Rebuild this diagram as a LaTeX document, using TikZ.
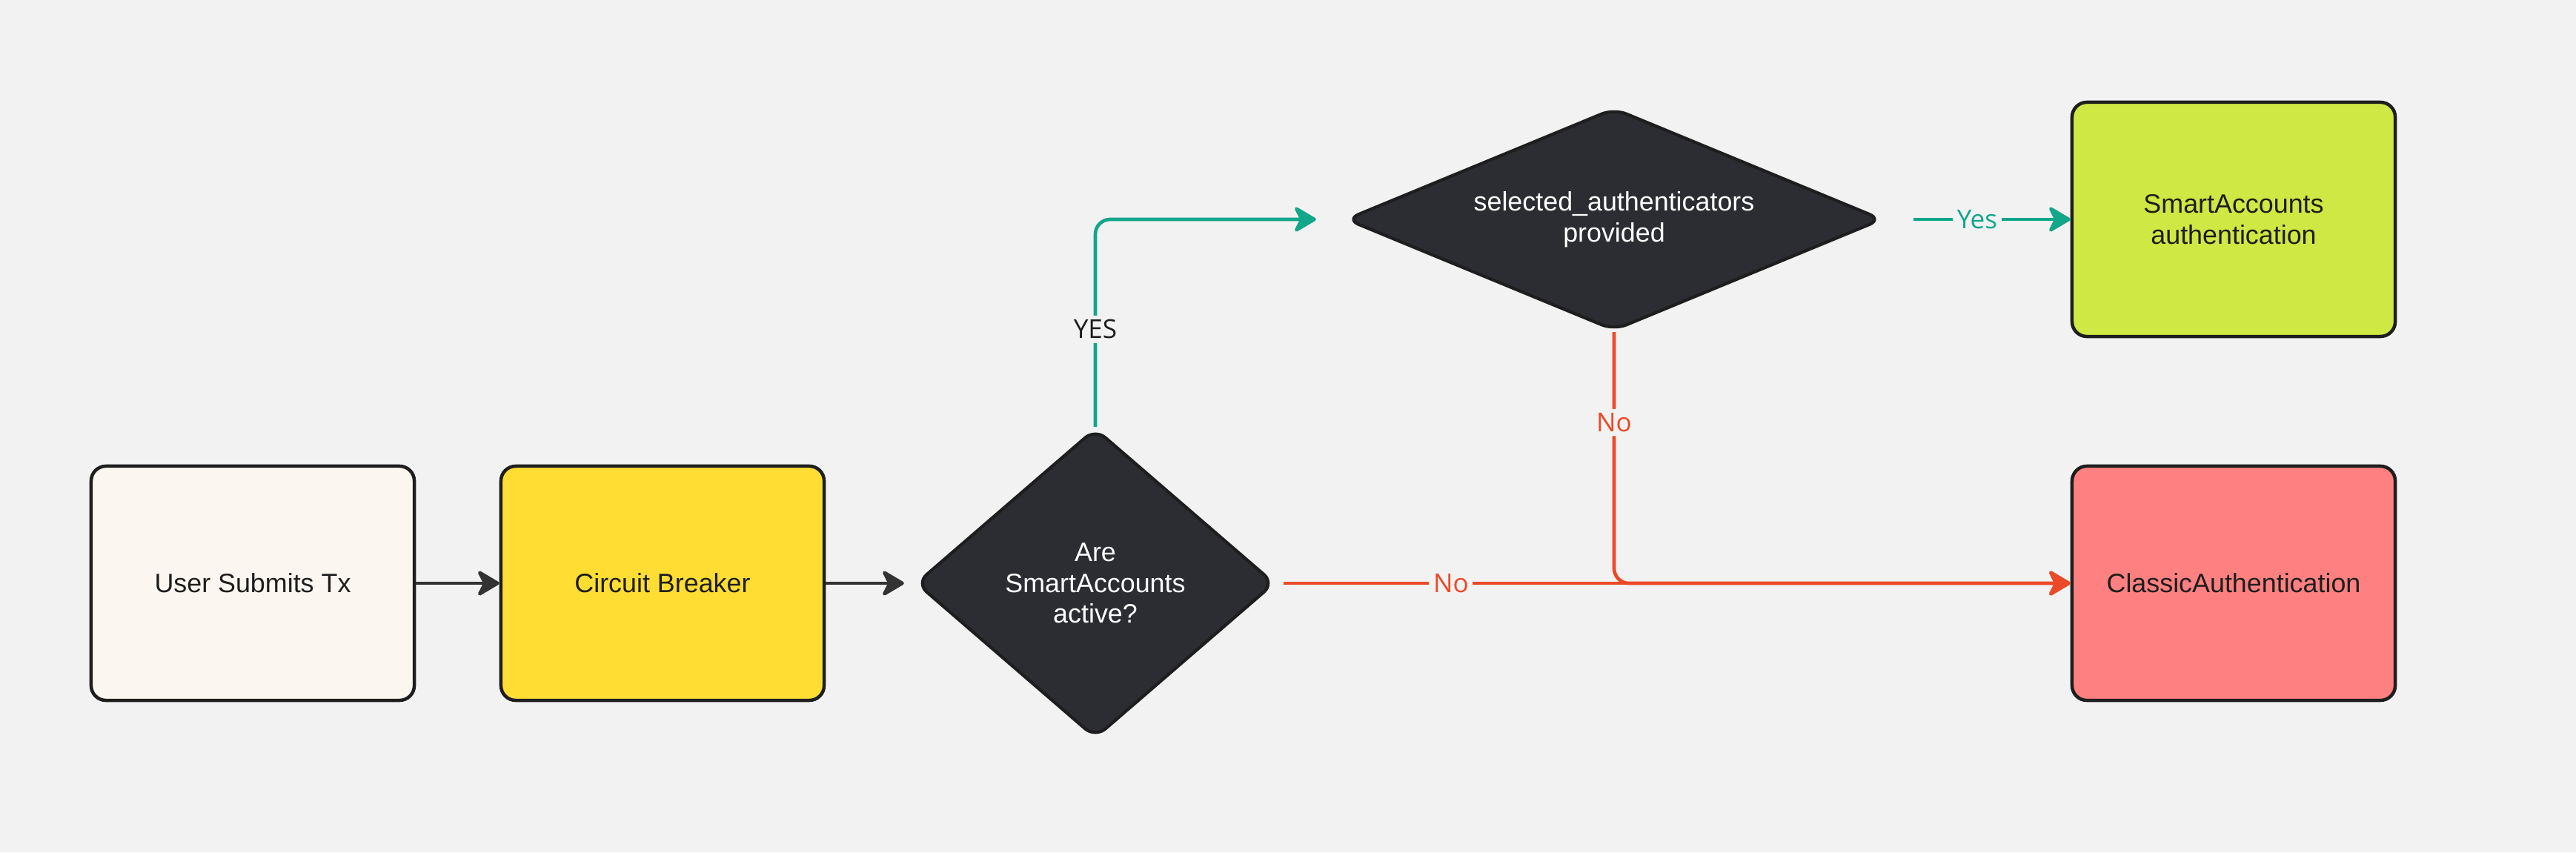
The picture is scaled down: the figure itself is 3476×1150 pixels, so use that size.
\documentclass[tikz,border=0pt]{standalone}
\usepackage{fontspec}
\setmainfont{Liberation Sans}
\newfontfamily\lblfont{Open Sans}
\usetikzlibrary{shapes.geometric,arrows.meta}
\definecolor{bg}{HTML}{F2F2F2}
\definecolor{edge}{HTML}{1E1E1E}
\definecolor{txt}{HTML}{1E1E1E}
\definecolor{cream}{HTML}{FBF7F0}
\definecolor{yell}{HTML}{FFDD33}
\definecolor{lime}{HTML}{CFE843}
\definecolor{pink}{HTML}{FF8080}
\definecolor{dk}{HTML}{2C2D32}
\definecolor{arrdark}{HTML}{333333}
\definecolor{tealc}{HTML}{12A68A}
\definecolor{redc}{HTML}{EA4A27}
\begin{document}
\begin{tikzpicture}[x=0.025cm,y=-0.025cm,
  box/.style={draw=edge, line width=3.2pt, rounded corners=0.5cm,
    minimum width=10.9cm, minimum height=7.9cm, align=center, text=txt,
    font=\fontsize{25.5}{29.5}\selectfont},
  dec/.style={diamond, draw=edge, fill=dk, line width=3pt, rounded corners=0.45cm,
    inner sep=0pt},
  dectext/.style={align=center, text=white, font=\fontsize{25.5}{29.5}\selectfont},
  conn/.style={line width=3.3pt, -{Stealth[length=0.85cm,width=1cm,inset=0.25cm,round]}},
  lbl/.style={fill=bg, inner sep=4pt, font=\lblfont\fontsize{25}{29}\selectfont}]
\fill[bg] (0,0) rectangle (3476,1150);
\useasboundingbox (0,0) rectangle (3476,1150);

\node[box, fill=cream] (user) at (341,787) {User Submits Tx};
\node[box, fill=yell] (cb) at (894,787) {Circuit Breaker};
\node[dec, minimum width=12.1cm, minimum height=10.45cm] (d1) at (1478,787) {};
\node[dectext] (d1t) at (d1.center) {Are\\SmartAccounts\\active?};
\node[dec, minimum width=18.1cm, minimum height=7.5cm] (d2) at (2178,296) {};
\node[dectext] (d2t) at (d2.center) {selected\_authenticators\\provided};
\node[box, fill=lime] (smart) at (3014,296) {SmartAccounts\\authentication};
\node[box, fill=pink] (classic) at (3014,787) {ClassicAuthentication};

\draw[conn, arrdark] (user) -- (cb);
\draw[conn, arrdark, shorten >=0.35cm] (cb) -- (d1);
\draw[conn, tealc, rounded corners=0.5cm, shorten >=0.95cm] (d1.north) |- (d2.west)
  node[lbl, text=txt, pos=0.235] {YES};
\draw[conn, tealc, shorten <=1cm] (d2.east) -- (smart.west)
  node[lbl, text=tealc, pos=0.5] {Yes};
\draw[conn, redc, rounded corners=0.5cm] (d2.south) |- (classic.west)
  node[lbl, text=redc, pos=0.18] {No};
\draw[conn, redc, shorten <=0.25cm] (d1.east) -- (classic.west)
  node[lbl, text=redc, pos=0.22] {No};
\end{tikzpicture}
\end{document}
